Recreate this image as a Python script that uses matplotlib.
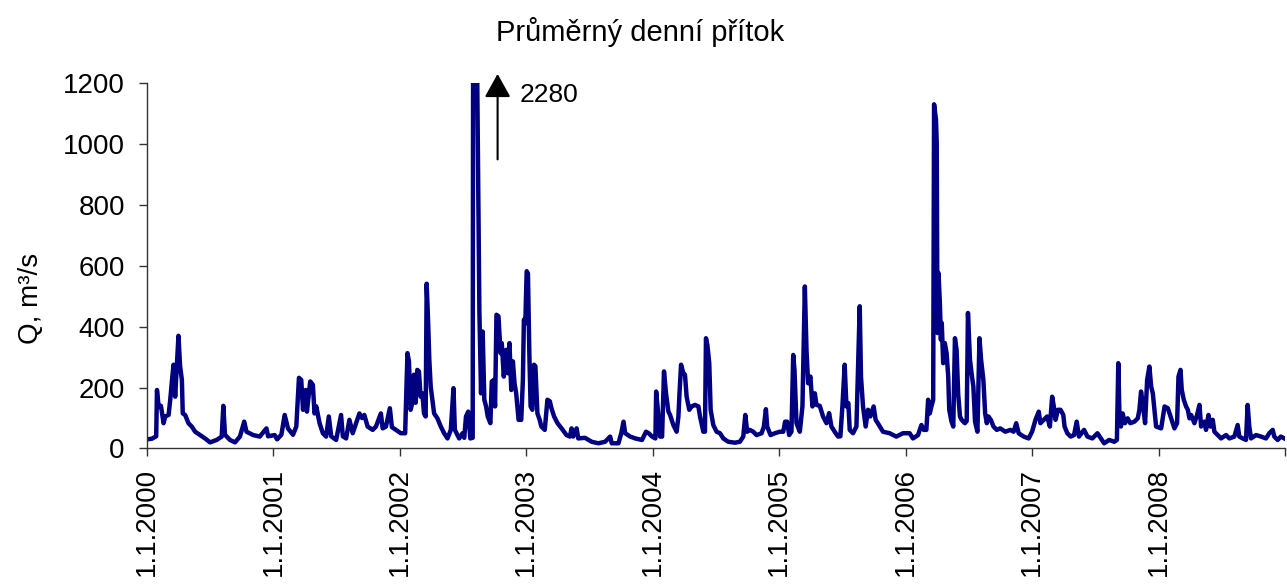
import matplotlib
matplotlib.use("Agg")
import matplotlib.pyplot as plt

plt.rcParams['font.family'] = ['Liberation Sans', 'DejaVu Sans']

# datum jako desetinny rok, prutok v m3/s
t_year = [
    2000.000, 2000.039, 2000.073, 2000.079, 2000.092, 2000.110, 2000.118, 2000.131, 2000.144, 2000.171,
    2000.184, 2000.197, 2000.210, 2000.223, 2000.236, 2000.249, 2000.262, 2000.276, 2000.283, 2000.302,
    2000.328, 2000.354, 2000.381, 2000.420, 2000.459, 2000.499, 2000.551, 2000.591, 2000.604, 2000.617,
    2000.656, 2000.696, 2000.735, 2000.769, 2000.787, 2000.840, 2000.892, 2000.945, 2000.958, 2001.010,
    2001.029, 2001.063, 2001.089, 2001.115, 2001.155, 2001.181, 2001.202, 2001.220, 2001.234, 2001.255,
    2001.265, 2001.291, 2001.312, 2001.325, 2001.339, 2001.365, 2001.391, 2001.417, 2001.438, 2001.457,
    2001.496, 2001.535, 2001.549, 2001.575, 2001.601, 2001.627, 2001.654, 2001.680, 2001.701, 2001.719,
    2001.745, 2001.785, 2001.811, 2001.850, 2001.864, 2001.890, 2001.921, 2001.937, 2001.969, 2002.008,
    2002.042, 2002.047, 2002.060, 2002.072, 2002.085, 2002.098, 2002.111, 2002.125, 2002.138, 2002.151,
    2002.164, 2002.178, 2002.191, 2002.204, 2002.212, 2002.223, 2002.233, 2002.244, 2002.257, 2002.271,
    2002.297, 2002.324, 2002.350, 2002.377, 2002.403, 2002.424, 2002.435, 2002.469, 2002.496, 2002.509,
    2002.523, 2002.541, 2002.557, 2002.576, 2002.582, 2002.590, 2002.596, 2002.610, 2002.629, 2002.642,
    2002.655, 2002.668, 2002.682, 2002.695, 2002.716, 2002.727, 2002.743, 2002.753, 2002.764, 2002.780,
    2002.796, 2002.806, 2002.822, 2002.841, 2002.854, 2002.867, 2002.881, 2002.894, 2002.907, 2002.920,
    2002.939, 2002.960, 2002.973, 2002.981, 2002.992, 2003.003, 2003.013, 2003.024, 2003.034, 2003.048,
    2003.061, 2003.072, 2003.088, 2003.106, 2003.119, 2003.146, 2003.167, 2003.186, 2003.199, 2003.220,
    2003.247, 2003.279, 2003.318, 2003.345, 2003.358, 2003.371, 2003.398, 2003.411, 2003.464, 2003.517,
    2003.570, 2003.623, 2003.663, 2003.676, 2003.729, 2003.751, 2003.769, 2003.782, 2003.822, 2003.862,
    2003.915, 2003.947, 2003.968, 2003.995, 2004.021, 2004.027, 2004.042, 2004.058, 2004.074, 2004.089,
    2004.105, 2004.124, 2004.137, 2004.163, 2004.189, 2004.203, 2004.211, 2004.224, 2004.242, 2004.255,
    2004.268, 2004.289, 2004.308, 2004.334, 2004.361, 2004.374, 2004.400, 2004.413, 2004.421, 2004.432,
    2004.447, 2004.458, 2004.479, 2004.505, 2004.532, 2004.558, 2004.597, 2004.650, 2004.689, 2004.716,
    2004.732, 2004.747, 2004.768, 2004.795, 2004.821, 2004.861, 2004.879, 2004.895, 2004.905, 2004.932,
    2004.966, 2005.005, 2005.032, 2005.047, 2005.063, 2005.079, 2005.097, 2005.111, 2005.121, 2005.137,
    2005.163, 2005.184, 2005.203, 2005.216, 2005.229, 2005.247, 2005.263, 2005.282, 2005.295, 2005.321,
    2005.347, 2005.374, 2005.395, 2005.413, 2005.439, 2005.466, 2005.484, 2005.500, 2005.518, 2005.532,
    2005.547, 2005.558, 2005.584, 2005.611, 2005.618, 2005.637, 2005.647, 2005.663, 2005.684, 2005.703,
    2005.721, 2005.747, 2005.763, 2005.789, 2005.821, 2005.874, 2005.926, 2005.979, 2006.032, 2006.058,
    2006.098, 2006.125, 2006.143, 2006.164, 2006.178, 2006.191, 2006.204, 2006.218, 2006.225, 2006.240,
    2006.246, 2006.252, 2006.260, 2006.271, 2006.279, 2006.286, 2006.297, 2006.310, 2006.324, 2006.337,
    2006.345, 2006.363, 2006.377, 2006.390, 2006.403, 2006.416, 2006.430, 2006.443, 2006.469, 2006.483,
    2006.493, 2006.509, 2006.523, 2006.536, 2006.549, 2006.568, 2006.584, 2006.597, 2006.615, 2006.629,
    2006.642, 2006.655, 2006.674, 2006.695, 2006.721, 2006.748, 2006.788, 2006.828, 2006.854, 2006.875,
    2006.894, 2006.934, 2006.973, 2007.000, 2007.027, 2007.053, 2007.066, 2007.093, 2007.119, 2007.141,
    2007.159, 2007.172, 2007.186, 2007.204, 2007.225, 2007.247, 2007.257, 2007.279, 2007.305, 2007.332,
    2007.353, 2007.371, 2007.411, 2007.438, 2007.477, 2007.517, 2007.544, 2007.570, 2007.610, 2007.650,
    2007.671, 2007.682, 2007.692, 2007.703, 2007.716, 2007.735, 2007.756, 2007.777, 2007.809, 2007.836,
    2007.849, 2007.862, 2007.875, 2007.894, 2007.910, 2007.928, 2007.942, 2007.955, 2007.968, 2007.981,
    2008.021, 2008.048, 2008.074, 2008.095, 2008.113, 2008.126, 2008.147, 2008.158, 2008.174, 2008.184,
    2008.200, 2008.218, 2008.232, 2008.245, 2008.258, 2008.284, 2008.305, 2008.324, 2008.337, 2008.363,
    2008.376, 2008.395, 2008.411, 2008.429, 2008.442, 2008.468, 2008.495, 2008.534, 2008.561, 2008.600,
    2008.626, 2008.639, 2008.666, 2008.692, 2008.705, 2008.718, 2008.732, 2008.771, 2008.811, 2008.850,
    2008.876, 2008.903, 2008.916, 2008.942, 2008.968, 2008.995, 2009.021,
]
q_m3s = [
    30, 32, 40, 192, 138, 140, 120, 83, 105, 110,
    160, 220, 275, 170, 270, 370, 270, 225, 115, 110,
    83, 72, 55, 44, 33, 20, 28, 39, 140, 45,
    28, 20, 39, 88, 55, 44, 39, 66, 40, 44,
    30, 45, 110, 66, 45, 72, 232, 225, 127, 192,
    121, 220, 209, 115, 138, 83, 50, 39, 105, 40,
    28, 110, 40, 33, 94, 50, 83, 115, 100, 110,
    72, 61, 72, 115, 66, 72, 132, 70, 61, 50,
    50, 127, 313, 286, 127, 149, 242, 150, 258, 253,
    170, 181, 115, 105, 541, 423, 291, 203, 160, 115,
    99, 72, 50, 33, 61, 198, 61, 33, 50, 35,
    105, 121, 33, 35, 2280, 2280, 2280, 1300, 450, 181,
    384, 160, 138, 105, 83, 220, 225, 138, 439, 434,
    313, 346, 236, 324, 247, 346, 192, 286, 214, 181,
    94, 94, 225, 423, 410, 582, 575, 313, 138, 127,
    275, 270, 115, 94, 72, 61, 160, 155, 132, 105,
    83, 66, 44, 39, 66, 39, 66, 33, 35, 22,
    17, 22, 39, 17, 17, 50, 88, 50, 39, 33,
    28, 55, 50, 39, 33, 187, 120, 39, 39, 253,
    181, 121, 110, 77, 55, 105, 176, 275, 247, 242,
    170, 127, 138, 143, 138, 105, 55, 55, 362, 340,
    280, 127, 77, 55, 50, 33, 22, 19, 22, 39,
    110, 55, 61, 55, 44, 50, 72, 129, 72, 44,
    50, 55, 55, 88, 88, 44, 55, 307, 258, 83,
    55, 138, 532, 324, 214, 236, 138, 181, 143, 140,
    105, 83, 116, 72, 55, 39, 40, 138, 275, 138,
    149, 61, 50, 72, 181, 467, 236, 138, 72, 127,
    105, 138, 94, 77, 55, 50, 39, 50, 50, 33,
    44, 77, 61, 61, 160, 115, 138, 160, 1130, 1080,
    1004, 379, 576, 477, 357, 412, 280, 346, 313, 236,
    127, 88, 72, 362, 324, 176, 105, 94, 83, 90,
    445, 291, 242, 203, 88, 55, 362, 291, 225, 115,
    83, 105, 94, 72, 61, 66, 55, 61, 55, 83,
    50, 39, 33, 55, 94, 121, 83, 94, 105, 72,
    170, 138, 94, 127, 127, 110, 72, 50, 39, 44,
    88, 39, 61, 39, 33, 50, 33, 17, 28, 22,
    28, 280, 94, 72, 115, 83, 99, 83, 88, 99,
    127, 187, 149, 83, 225, 269, 203, 181, 127, 72,
    66, 138, 132, 105, 83, 66, 83, 236, 258, 192,
    160, 138, 127, 99, 110, 83, 110, 143, 72, 88,
    61, 110, 72, 94, 55, 44, 33, 44, 33, 39,
    77, 39, 33, 28, 143, 72, 33, 44, 39, 33,
    50, 61, 39, 28, 39, 33, 28,
]

years = list(range(2000, 2010))
year_labels = ['1.1.%d' % y for y in years[:-1]] + ['']

fig = plt.figure(figsize=(12.87, 5.87), dpi=100)
ax = fig.add_axes([0.1142, 0.236, 0.8842, 0.6226])

ax.plot(t_year, q_m3s, color='#000080', linewidth=3.2, solid_joinstyle='round')

ax.set_xlim(2000, 2009)
ax.set_ylim(0, 1200)
ax.set_yticks(range(0, 1201, 200))
ax.set_xticks(years)
ax.set_xticklabels(year_labels, rotation=90, va='top', ha='center')

for s in ['top', 'right']:
    ax.spines[s].set_visible(False)
for s in ['left', 'bottom']:
    ax.spines[s].set_color('#333333')
    ax.spines[s].set_linewidth(1.0)

ax.tick_params(axis='y', direction='out', length=6, width=1, color='#333333', labelsize=20, pad=10)
ax.tick_params(axis='x', direction='out', length=6, width=1, color='#333333', labelsize=20, pad=8)

# sipka k maximu mimo osu
ax.annotate('', xy=(2002.773, 1239), xytext=(2002.773, 940),
            arrowprops=dict(arrowstyle='-|>,head_length=0.72,head_width=0.4',
                            mutation_scale=20, color='black', lw=1.5),
            annotation_clip=False)
ax.text(2002.947, 1160, '2280', fontsize=19, va='center', ha='left')

fig.text(0.4977, 0.945, 'Průměrný denní přítok', fontsize=21, ha='center', va='center')
fig.text(0.024, 0.492, 'Q, m³/s', fontsize=20, rotation=90, ha='center', va='center')

fig.savefig('out.png', dpi=100)
